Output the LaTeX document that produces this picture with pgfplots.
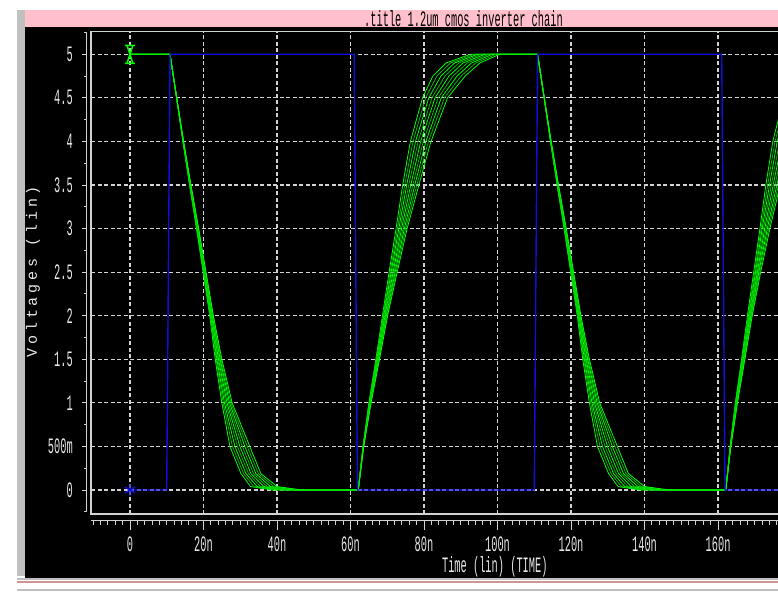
\documentclass[border=0pt]{standalone}
\usepackage{pgfplots}
\pgfplotsset{compat=1.18}
\usepackage{fontspec}
\setmainfont{Liberation Mono}
\newfontfamily\hspfont{Liberation Mono}[FakeStretch=0.47]
\newfontfamily\ylfont{Liberation Mono}[LetterSpace=25]
\definecolor{hspgreen}{RGB}{0,255,0}
\definecolor{hspgreenB}{RGB}{0,185,0}
\definecolor{hspblue}{RGB}{15,15,215}
\definecolor{gridgray}{RGB}{210,210,210}
\definecolor{titlepink}{RGB}{255,192,203}
\definecolor{edgegray}{RGB}{192,192,192}
\definecolor{edgerose}{RGB}{205,150,150}
\definecolor{txt}{RGB}{232,232,232}
\pgfdeclareplotmark{hourglass}{%
  \pgfpathmoveto{\pgfqpoint{-\pgfplotmarksize}{1.8\pgfplotmarksize}}%
  \pgfpathlineto{\pgfqpoint{\pgfplotmarksize}{1.8\pgfplotmarksize}}%
  \pgfpathmoveto{\pgfqpoint{-\pgfplotmarksize}{-1.8\pgfplotmarksize}}%
  \pgfpathlineto{\pgfqpoint{\pgfplotmarksize}{-1.8\pgfplotmarksize}}%
  \pgfpathmoveto{\pgfqpoint{-0.6\pgfplotmarksize}{1.8\pgfplotmarksize}}%
  \pgfpathlineto{\pgfqpoint{0.6\pgfplotmarksize}{-1.8\pgfplotmarksize}}%
  \pgfpathmoveto{\pgfqpoint{0.6\pgfplotmarksize}{1.8\pgfplotmarksize}}%
  \pgfpathlineto{\pgfqpoint{-0.6\pgfplotmarksize}{-1.8\pgfplotmarksize}}%
  \pgfusepathqstroke}
\begin{document}
\begin{tikzpicture}[x=1pt,y=1pt]
\useasboundingbox (0,0) rectangle (778,592);
\begin{scope}
\clip (0,0) rectangle (778,592);
\fill[white] (0,0) rectangle (778,592);
\fill[edgegray] (17,16) rectangle (25,582);
\fill[black] (25,14) rectangle (778,565);
\fill[titlepink] (25,565) rectangle (778,582);
\fill[edgegray] (17,12) rectangle (778,14);
\fill[edgerose] (17,9) rectangle (778,11);
\fill[edgegray] (17,1) rectangle (778,3);
\node[font=\fontsize{22}{22}\hspfont, text=black, inner sep=0pt] at (463.5,573) {.title 1.2um cmos inverter chain};
% rulers
\draw[gridgray, line width=1pt] (91,71.5) -- (778,71.5);
\foreach \t in {-10,-8,...,176} \draw[gridgray, line width=1pt] ({130+3.675*\t},71.5) -- ++(0,-4);
\foreach \t in {0,20,...,160} \draw[gridgray, line width=1pt] ({130+3.675*\t},71.5) -- ++(0,-9.5);
\draw[gridgray, line width=1pt] (86.7,80.3) -- (86.7,560.3);
\foreach \v in {0,0.5,...,5} \draw[gridgray, line width=1pt] (81.7,{102+87.14*\v}) -- (86.7,{102+87.14*\v});
\foreach \v in {-0.25,0.25,...,5.25} \draw[gridgray, line width=1pt] (84.2,{102+87.14*\v}) -- (86.7,{102+87.14*\v});
\node[font=\fontsize{22}{22}\hspfont, text=txt, inner sep=0pt] at (494.8,25) {Time (lin) (TIME)};
\node[font=\fontsize{15}{15}\ylfont, text=txt, inner sep=0pt, rotate=90] at (33,320.5) {Voltages (lin)};
\begin{axis}[
  at={(91pt,78pt)}, anchor=south west, scale only axis,
  width=707.9pt, height=482.3pt,
  xmin=-10.6, xmax=182, ymin=-0.275, ymax=5.259,
  axis line style={gridgray, line width=1.2pt},
  xtick={0,20,40,60,80,100,120,140,160},
  xticklabels={0,20n,40n,60n,80n,100n,120n,140n,160n},
  ytick={0,0.5,1,1.5,2,2.5,3,3.5,4,4.5,5},
  yticklabels={0,500m,1,1.5,2,2.5,3,3.5,4,4.5,5},
  major tick length=0pt,
  grid=major,
  major grid style={gridgray, line width=1.2pt, dash pattern=on 4pt off 2.5pt},
  xticklabel style={font=\fontsize{22}{22}\hspfont, text=txt, anchor=center, yshift=-30.5pt},
  yticklabel style={font=\fontsize{22}{22}\hspfont, text=txt, anchor=east, inner sep=0pt, xshift=-18pt},
  every axis plot/.append style={line width=0.8pt},
]
% family of output waveforms (s = -1 ... 1)
\addplot[hspgreen] coordinates {(0,5)(10.9,5)(12.7,4.5)(14.4,4)(16.2,3.5)(18.1,3)(19.9,2.5)(21.7,2)(23.2,1.5)(25.0,1)(27.2,0.5)(30.2,0.19)(32.8,0.04)(38.9,0)(62.1,0)(63.4,0.5)(65.0,1)(66.9,1.5)(68.7,2)(70.5,2.5)(72.4,3)(74.2,3.5)(76.3,4)(79.6,4.5)(82.4,4.75)(86.0,4.9)(92.6,5)(110.9,5)(112.7,4.5)(114.4,4)(116.2,3.5)(118.1,3)(119.9,2.5)(121.7,2)(123.2,1.5)(125.0,1)(127.2,0.5)(130.2,0.19)(132.8,0.04)(138.9,0)(162.1,0)(163.3,0.5)(164.7,1)(166.4,1.5)(168.0,2)(169.7,2.5)(171.4,3)(173.0,3.5)(174.9,4)(177.9,4.5)(180.6,4.75)};
\addplot[hspgreenB] coordinates {(0,5)(10.9,5)(12.7,4.5)(14.43,4)(16.25,3.5)(18.18,3)(20.0,2.5)(21.83,2)(23.43,1.5)(25.35,1)(27.88,0.5)(30.88,0.19)(33.7,0.04)(39.9,0)(62.1,0)(63.43,0.5)(65.08,1)(67.03,1.5)(68.88,2)(70.78,2.5)(72.78,3)(74.75,3.5)(77.0,4)(80.45,4.5)(83.5,4.75)(87.15,4.9)(93.6,5)(110.9,5)(112.7,4.5)(114.43,4)(116.25,3.5)(118.18,3)(120.0,2.5)(121.83,2)(123.43,1.5)(125.35,1)(127.88,0.5)(130.88,0.19)(133.7,0.04)(139.9,0)(162.1,0)(163.3,0.5)(164.75,1)(166.5,1.5)(168.2,2)(169.95,2.5)(171.7,3)(173.5,3.5)(175.5,4)(178.65,4.5)};
\addplot[hspgreen] coordinates {(0,5)(10.9,5)(12.7,4.5)(14.45,4)(16.3,3.5)(18.25,3)(20.1,2.5)(21.95,2)(23.65,1.5)(25.7,1)(28.55,0.5)(31.55,0.19)(34.6,0.04)(40.9,0)(62.1,0)(63.45,0.5)(65.15,1)(67.15,1.5)(69.05,2)(71.05,2.5)(73.15,3)(75.3,3.5)(77.7,4)(81.3,4.5)(84.6,4.75)(88.3,4.9)(94.6,5)(110.9,5)(112.7,4.5)(114.45,4)(116.3,3.5)(118.25,3)(120.1,2.5)(121.95,2)(123.65,1.5)(125.7,1)(128.55,0.5)(131.55,0.19)(134.6,0.04)(140.9,0)(162.1,0)(163.3,0.5)(164.8,1)(166.6,1.5)(168.4,2)(170.2,2.5)(172.0,3)(174.0,3.5)(176.1,4)(179.4,4.5)};
\addplot[hspgreenB] coordinates {(0,5)(10.9,5)(12.7,4.5)(14.48,4)(16.35,3.5)(18.33,3)(20.2,2.5)(22.08,2)(23.88,1.5)(26.05,1)(29.23,0.5)(32.23,0.19)(35.5,0.04)(41.9,0)(62.1,0)(63.48,0.5)(65.23,1)(67.28,1.5)(69.23,2)(71.33,2.5)(73.53,3)(75.85,3.5)(78.4,4)(82.15,4.5)(85.7,4.75)(89.45,4.9)(95.6,5)(110.9,5)(112.7,4.5)(114.48,4)(116.35,3.5)(118.33,3)(120.2,2.5)(122.08,2)(123.88,1.5)(126.05,1)(129.23,0.5)(132.23,0.19)(135.5,0.04)(141.9,0)(162.1,0)(163.35,0.5)(164.9,1)(166.75,1.5)(168.55,2)(170.45,2.5)(172.35,3)(174.5,3.5)(176.75,4)(180.15,4.5)};
\addplot[hspgreen] coordinates {(0,5)(10.9,5)(12.7,4.5)(14.5,4)(16.4,3.5)(18.4,3)(20.3,2.5)(22.2,2)(24.1,1.5)(26.4,1)(29.9,0.5)(32.9,0.19)(36.4,0.04)(42.9,0)(62.1,0)(63.5,0.5)(65.3,1)(67.4,1.5)(69.4,2)(71.6,2.5)(73.9,3)(76.4,3.5)(79.1,4)(83.0,4.5)(86.8,4.75)(90.6,4.9)(96.6,5)(110.9,5)(112.7,4.5)(114.5,4)(116.4,3.5)(118.4,3)(120.3,2.5)(122.2,2)(124.1,1.5)(126.4,1)(129.9,0.5)(132.9,0.19)(136.4,0.04)(142.9,0)(162.1,0)(163.4,0.5)(165.0,1)(166.9,1.5)(168.7,2)(170.7,2.5)(172.7,3)(175.0,3.5)(177.4,4)(180.9,4.5)};
\addplot[hspgreenB] coordinates {(0,5)(10.9,5)(12.7,4.5)(14.53,4)(16.45,3.5)(18.48,3)(20.4,2.5)(22.33,2)(24.33,1.5)(26.75,1)(30.58,0.5)(33.58,0.19)(37.3,0.04)(43.9,0)(62.1,0)(63.53,0.5)(65.38,1)(67.53,1.5)(69.58,2)(71.88,2.5)(74.28,3)(76.95,3.5)(79.8,4)(83.85,4.5)(87.9,4.75)(91.75,4.9)(97.6,5)(110.9,5)(112.7,4.5)(114.53,4)(116.45,3.5)(118.48,3)(120.4,2.5)(122.33,2)(124.33,1.5)(126.75,1)(130.58,0.5)(133.58,0.19)(137.3,0.04)(143.9,0)(162.1,0)(163.4,0.5)(165.05,1)(167.0,1.5)(168.85,2)(170.9,2.5)(173.05,3)(175.5,3.5)(178.05,4)(181.65,4.5)};
\addplot[hspgreen] coordinates {(0,5)(10.9,5)(12.7,4.5)(14.55,4)(16.5,3.5)(18.55,3)(20.5,2.5)(22.45,2)(24.55,1.5)(27.1,1)(31.25,0.5)(34.25,0.19)(38.2,0.04)(44.9,0)(62.1,0)(63.55,0.5)(65.45,1)(67.65,1.5)(69.75,2)(72.15,2.5)(74.65,3)(77.5,3.5)(80.5,4)(84.7,4.5)(89.0,4.75)(92.9,4.9)(98.6,5)(110.9,5)(112.7,4.5)(114.55,4)(116.5,3.5)(118.55,3)(120.5,2.5)(122.45,2)(124.55,1.5)(127.1,1)(131.25,0.5)(134.25,0.19)(138.2,0.04)(144.9,0)(162.1,0)(163.4,0.5)(165.1,1)(167.1,1.5)(169.0,2)(171.1,2.5)(173.4,3)(176.0,3.5)(178.7,4)(182.4,4.5)};
\addplot[hspgreenB] coordinates {(0,5)(10.9,5)(12.7,4.5)(14.58,4)(16.55,3.5)(18.63,3)(20.6,2.5)(22.58,2)(24.78,1.5)(27.45,1)(31.93,0.5)(34.93,0.19)(39.1,0.04)(45.9,0)(62.1,0)(63.58,0.5)(65.53,1)(67.78,1.5)(69.93,2)(72.43,2.5)(75.03,3)(78.05,3.5)(81.2,4)(85.55,4.5)(90.1,4.75)(94.05,4.9)(99.6,5)(110.9,5)(112.7,4.5)(114.58,4)(116.55,3.5)(118.63,3)(120.6,2.5)(122.58,2)(124.78,1.5)(127.45,1)(131.93,0.5)(134.93,0.19)(139.1,0.04)(145.9,0)(162.1,0)(163.45,0.5)(165.2,1)(167.2,1.5)(169.15,2)(171.35,2.5)(173.75,3)(176.45,3.5)(179.3,4)(183.2,4.5)};
\addplot[hspgreen] coordinates {(0,5)(10.9,5)(12.7,4.5)(14.6,4)(16.6,3.5)(18.7,3)(20.7,2.5)(22.7,2)(25.0,1.5)(27.8,1)(32.6,0.5)(35.6,0.19)(40.0,0.04)(46.9,0)(62.1,0)(63.6,0.5)(65.6,1)(67.9,1.5)(70.1,2)(72.7,2.5)(75.4,3)(78.6,3.5)(81.9,4)(86.4,4.5)(91.2,4.75)(95.2,4.9)(100.6,5)(110.9,5)(112.7,4.5)(114.6,4)(116.6,3.5)(118.7,3)(120.7,2.5)(122.7,2)(125.0,1.5)(127.8,1)(132.6,0.5)(135.6,0.19)(140.0,0.04)(146.9,0)(162.1,0)(163.5,0.5)(165.3,1)(167.3,1.5)(169.3,2)(171.6,2.5)(174.1,3)(176.9,3.5)(179.9,4)(184.0,4.5)};
% input pulse
\addplot[hspblue, line width=1.4pt, mark=asterisk, mark size=6pt, mark indices={1}, mark options={line width=1.4pt}] coordinates {(0,0)(10,0)(10.9,5)(61,5)(61.9,0)(110,0)(110.9,5)(161,5)(161.9,0)(185,0)};
\addplot[hspgreen, only marks, mark=hourglass, mark size=5pt, mark options={line width=1.5pt}] coordinates {(0,5)};
\end{axis}
\end{scope}
\end{tikzpicture}
\end{document}
